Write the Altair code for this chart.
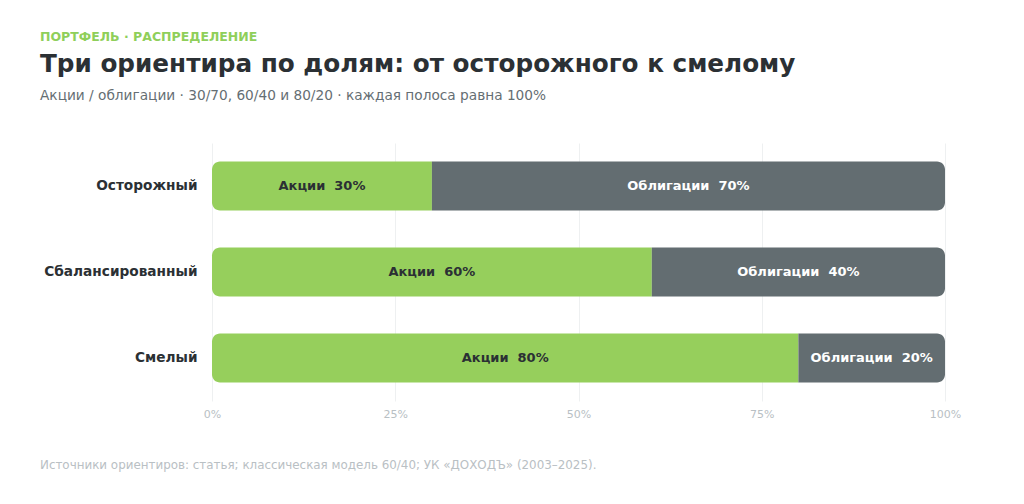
import altair as alt
import pandas as pd

profiles = ["Осторожный", "Сбалансированный", "Смелый"]
stocks = [30, 60, 80]
bonds = [70, 40, 20]
assets = ["Акции", "Облигации"]
ticks = [0, 25, 50, 75, 100]

eyebrow = "ПОРТФЕЛЬ · РАСПРЕДЕЛЕНИЕ"
title = "Три ориентира по долям: от осторожного к смелому"
subtitle = "Акции / облигации · 30/70, 60/40 и 80/20 · каждая полоса равна 100%"
footer = "Источники ориентиров: статья; классическая модель 60/40; УК «ДОХОДЪ» (2003–2025)."

GREEN = "#96cf5c"
GREY = "#636d71"
DARK = "#2b3034"
FONT = "DejaVu Sans"

rows = []
for p, s, b in zip(profiles, stocks, bonds):
    rows.append({"profile": p, "asset": assets[0], "order": 0, "share": s})
    rows.append({"profile": p, "asset": assets[1], "order": 1, "share": b})
df = pd.DataFrame(rows)

base = (
    alt.Chart(df)
    .transform_stack(stack="share", groupby=["profile"], as_=["v0", "v1"],
                     sort=[alt.SortField("order", order="ascending")])
    .transform_calculate(mid="(datum.v0 + datum.v1) / 2",
                         label="datum.asset + ' \u00a0' + datum.share + '%'")
)

x_axis = alt.Axis(values=ticks, labelExpr="datum.value + '%'", grid=True, domain=False,
                  ticks=False, title=None, labelFontSize=11, labelColor="#b8c0c4",
                  labelPadding=7, gridColor="#eef0f1", labelFont=FONT, labelFlush=False)
y_enc = alt.Y("profile:N", sort=profiles,
              scale=alt.Scale(paddingInner=0.43, paddingOuter=0.215),
              axis=alt.Axis(title=None, domain=False, ticks=False, labelFontSize=13.7,
                            labelFontWeight="bold", labelColor=DARK, labelPadding=15,
                            labelFont=FONT))

stock_bars = base.transform_filter(alt.datum.asset == assets[0]).mark_bar(
    color=GREEN, cornerRadiusTopLeft=8, cornerRadiusBottomLeft=8
).encode(
    x=alt.X("v0:Q", scale=alt.Scale(domain=[0, 100]), axis=x_axis),
    x2="v1:Q",
    y=y_enc,
)
bond_bars = base.transform_filter(alt.datum.asset == assets[1]).mark_bar(
    color=GREY, cornerRadiusTopRight=8, cornerRadiusBottomRight=8
).encode(
    x=alt.X("v0:Q", scale=alt.Scale(domain=[0, 100]), axis=x_axis),
    x2="v1:Q",
    y=y_enc,
)
labels = base.mark_text(fontSize=13, fontWeight="bold", font=FONT, baseline="middle").encode(
    x=alt.X("mid:Q"),
    y=y_enc,
    text="label:N",
    color=alt.Color("asset:N", scale=alt.Scale(domain=assets, range=[DARK, "#ffffff"]),
                    legend=None),
)


def header_text(txt, y, size, weight, color):
    return alt.Chart(pd.DataFrame({"t": [txt]})).mark_text(
        align="left", baseline="middle", fontSize=size, fontWeight=weight, font=FONT,
        color=color
    ).encode(x=alt.value(-172), y=alt.value(y), text="t:N")


eyebrow_mark = header_text(eyebrow, -106, 12.5, "bold", "#8fcf5a")
title_mark = header_text(title, -78, 24.7, "bold", DARK)
subtitle_mark = header_text(subtitle, -47, 13.7, "normal", "#656e73")
footer_mark = header_text(footer, 322, 11.9, "normal", "#b9c0c4")

chart = alt.layer(
    stock_bars, bond_bars, labels, eyebrow_mark, title_mark, subtitle_mark, footer_mark
).properties(
    width=733,
    height=258,
    autosize=alt.AutoSizeParams(type="none"),
    padding={"left": 212, "top": 143, "right": 79, "bottom": 103},
    background="#ffffff",
).configure_view(stroke=None)

chart.save("out.html", embed_options={"renderer": "svg", "actions": False})
